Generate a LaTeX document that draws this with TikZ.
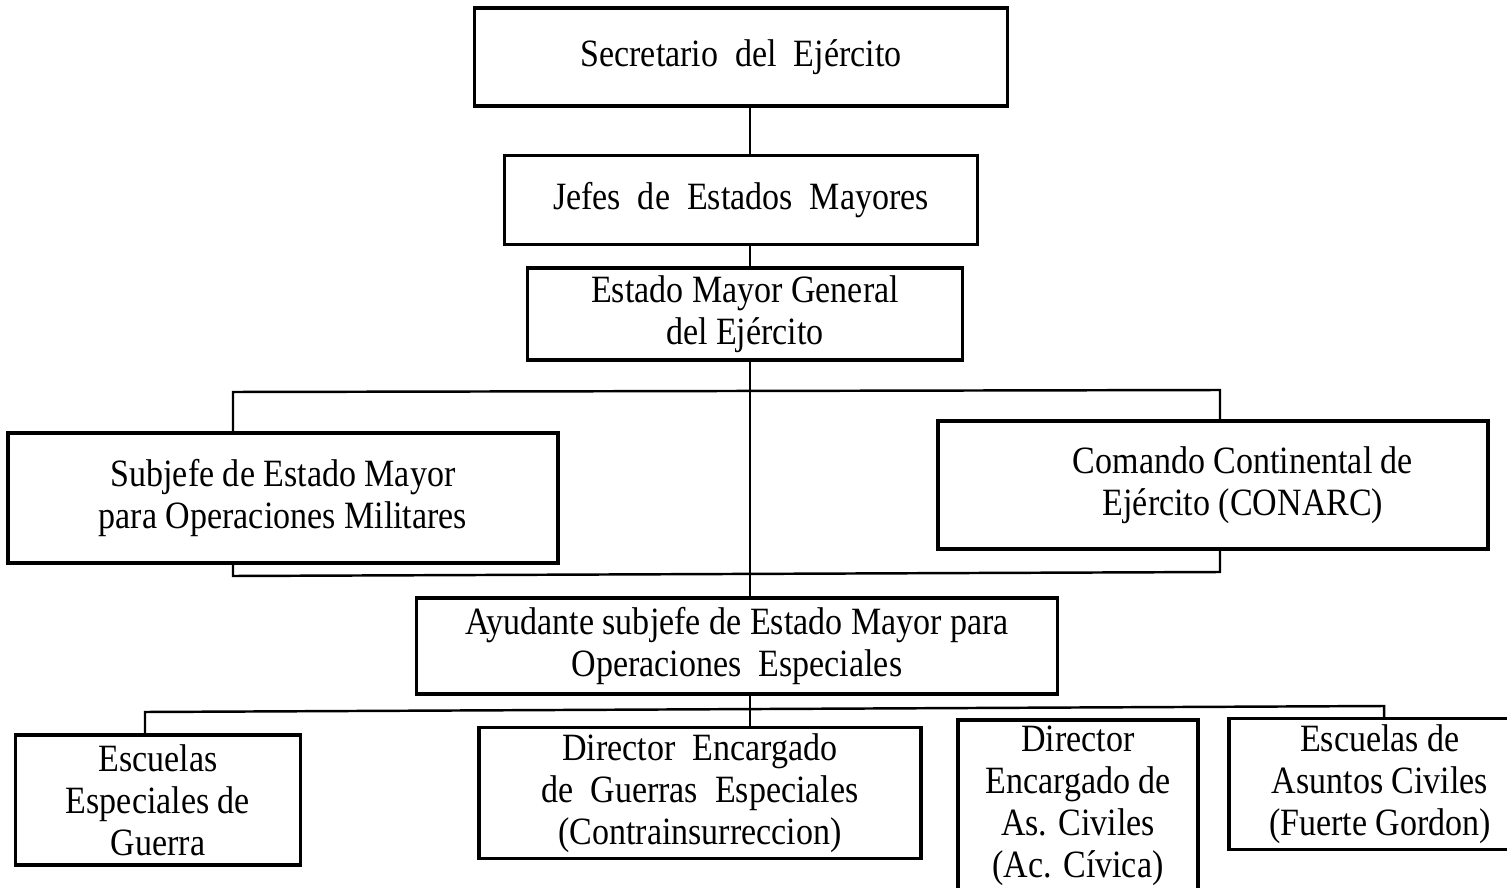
\documentclass[tikz,border=0pt]{standalone}
\usepackage{fontspec}
\setmainfont{Liberation Serif}[FakeStretch=0.88]
\newcommand{\linea}{black}
\usepackage{tikz}

\begin{document}
\begin{tikzpicture}[x=0.02cm, y=-0.02cm,
    caja/.style={draw=\linea, line width=1.8pt, align=center, outer sep=0pt,
      font=\fontsize{22}{24}\selectfont},
    enlace/.style={draw=\linea, line width=1.4pt}]

    \useasboundingbox (0, 0) rectangle (1507, 888);

    \node[caja, minimum width=10.66cm, minimum height=1.96cm] (secretario) at (741, 57) {Secretario\ \ del\ \ Ejército};
    \node[caja, minimum width=9.46cm, minimum height=1.78cm] (jefes) at (741, 200) {Jefes\ \ de\ \ Estados\ \ Mayores};
    \node[caja, minimum width=8.70cm, minimum height=1.84cm] (estado) at (745, 314) {Estado Mayor General\\del Ejército};

    \node[caja, minimum width=11.0cm, minimum height=2.60cm] (subjefe) at (283, 498) {Subjefe de Estado Mayor\\para Operaciones Militares};
    \node[caja, minimum width=11.0cm, minimum height=2.56cm] (comando) at (1213, 485) {\hspace*{1.2cm}Comando Continental de\\\hspace*{1.2cm}Ejército (CONARC)};

    \node[caja, minimum width=12.82cm, minimum height=1.92cm] (ayudante) at (737, 646) {Ayudante subjefe de Estado Mayor para\\Operaciones\ \ Especiales};

    \node[caja, minimum width=5.70cm, minimum height=2.60cm] (escuelas) at (158, 800) {Escuelas\\Especiales de\\Guerra};
    \node[caja, minimum width=8.84cm, minimum height=2.56cm] (guerras) at (700, 793) {Director\ \ Encargado\\de\ \ Guerras\ \ Especiales\\(Contrainsurreccion)};
    \node[caja, minimum width=4.80cm, minimum height=3.36cm] (civiles) at (1078, 806) {Director\\Encargado de\\As. Civiles\\(Ac. Cívica)};
    \node[caja, minimum width=6.04cm, minimum height=2.54cm] (fuerte) at (1380, 784) {Escuelas de\\Asuntos Civiles\\(Fuerte Gordon)};

    % tronco central
    \coordinate (eje) at (750, 0);
    \draw[enlace] (secretario.south -| eje) -- (jefes.north -| eje);
    \draw[enlace] (jefes.south -| eje) -- (estado.north -| eje);
    \draw[enlace] (estado.south -| eje) -- (ayudante.north -| eje);
    \draw[enlace] (ayudante.south -| eje) -- (guerras.north -| eje);

    % corchete de los subjefes
    \coordinate (arribaI) at (233, 392);
    \coordinate (arribaD) at (1220, 390);
    \coordinate (abajoI) at (233, 576);
    \coordinate (abajoD) at (1220, 572);
    \draw[enlace] (subjefe.north -| arribaI) -- (arribaI) -- (arribaD) -- (comando.north -| arribaD);
    \draw[enlace] (subjefe.south -| abajoI) -- (abajoI) -- (abajoD) -- (comando.south -| abajoD);

    % barra de las escuelas
    \coordinate (barraI) at (145, 712);
    \coordinate (barraD) at (1384, 706);
    \draw[enlace] (escuelas.north -| barraI) -- (barraI) -- (barraD) -- (fuerte.north -| barraD);

\end{tikzpicture}
\end{document}
